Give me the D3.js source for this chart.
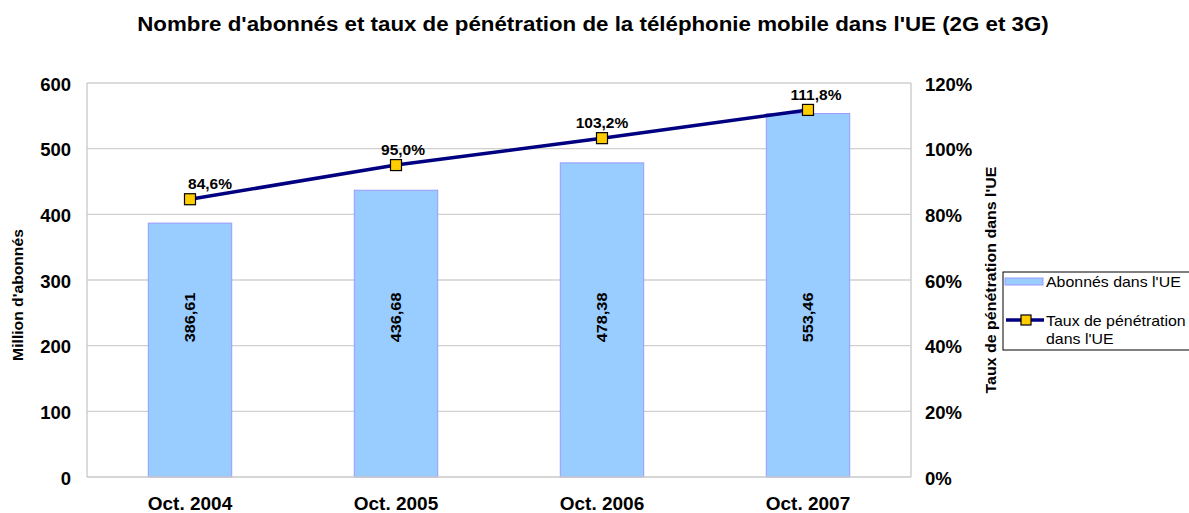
<!DOCTYPE html>
<html><head><meta charset="utf-8">
<script src="https://cdn.jsdelivr.net/npm/d3@7"></script>
<style>body{margin:0;background:#fff;font-family:"Liberation Sans",Arial,sans-serif;}</style>
</head><body>
<svg id="c" width="1189" height="513"></svg>
<script>
const categories = ["Oct. 2004","Oct. 2005","Oct. 2006","Oct. 2007"];
const subscribers = [386.61,436.68,478.38,553.46];
const penetration = [84.6,95.0,103.2,111.8];
const leftTicks = [0,100,200,300,400,500,600];
const rightTicks = [0,20,40,60,80,100,120];
const title = "Nombre d'abonnés et taux de pénétration de la téléphonie mobile dans l'UE (2G et 3G)";

const svg = d3.select("#c");
const m = {l:87, r:911, t:83, b:477};
const xc = d3.scaleBand().domain(categories).range([m.l,m.r]);
const yL = d3.scaleLinear().domain([0,600]).range([m.b,m.t]);
const yR = d3.scaleLinear().domain([0,120]).range([m.b,m.t]);
const fmt = v => v.toFixed(2).replace(".",",");
const fmtP = v => v.toFixed(1).replace(".",",")+"%";
const cx = i => xc(categories[i])+xc.bandwidth()/2;
function stretch(sel,k){ sel.each(function(){ const L=this.getComputedTextLength(); this.setAttribute("textLength",L*k); this.setAttribute("lengthAdjust","spacingAndGlyphs"); }); return sel; }

svg.append("text").attr("x",593).attr("y",31).attr("text-anchor","middle")
  .attr("font-size",20).attr("font-weight","bold").text(title).call(stretch,1.115);

// grid
svg.append("g").selectAll("line").data(leftTicks.filter(d=>d>0)).join("line")
  .attr("x1",m.l).attr("x2",m.r).attr("y1",d=>yL(d)).attr("y2",d=>yL(d))
  .attr("stroke","#d0d0d0").attr("stroke-width",1.3);
svg.append("line").attr("x1",m.l).attr("x2",m.l).attr("y1",m.t).attr("y2",m.b).attr("stroke","#c8c8c8").attr("stroke-width",1.3);
svg.append("line").attr("x1",m.r).attr("x2",m.r).attr("y1",m.t).attr("y2",m.b).attr("stroke","#c8c8c8").attr("stroke-width",1.3);

// bars
const bw = xc.bandwidth()*0.405;
svg.append("g").selectAll("rect").data(subscribers).join("rect")
  .attr("x",(d,i)=>cx(i)-bw/2)
  .attr("y",d=>yL(d)).attr("width",bw).attr("height",d=>yL(0)-yL(d))
  .attr("fill","#99CCFF").attr("stroke","#9999FF").attr("stroke-width",1);
svg.append("line").attr("x1",m.l).attr("x2",m.r).attr("y1",m.b).attr("y2",m.b).attr("stroke","#c8c8c8").attr("stroke-width",1.3);

// bar labels
svg.append("g").selectAll("text").data(subscribers).join("text")
  .attr("transform",(d,i)=>`translate(${cx(i)+5},${yL(243)}) rotate(-90)`)
  .attr("text-anchor","middle").attr("font-size",14.5).attr("font-weight","bold").text(d=>fmt(d)).call(stretch,1.12);

// line
svg.append("path").datum(penetration)
  .attr("d",d3.line().x((d,i)=>cx(i)).y(d=>yR(d)))
  .attr("fill","none").attr("stroke","#000080").attr("stroke-width",3.5);
svg.append("g").selectAll("rect").data(penetration).join("rect")
  .attr("x",(d,i)=>cx(i)-5.5).attr("y",d=>yR(d)-5.5).attr("width",11).attr("height",11)
  .attr("fill","#FFCC00").attr("stroke","#000").attr("stroke-width",1.2);
const labelDx = [20,7,0,8];
svg.append("g").selectAll("text").data(penetration).join("text")
  .attr("x",(d,i)=>cx(i)+labelDx[i]).attr("y",d=>yR(d)-10).attr("text-anchor","middle")
  .attr("font-size",15.5).attr("font-weight","bold").text(d=>fmtP(d));

// left axis labels
svg.append("g").selectAll("text").data(leftTicks).join("text")
  .attr("x",71).attr("y",d=>yL(d)+7.5).attr("text-anchor","end")
  .attr("font-size",18.5).attr("font-weight","bold").text(d=>d);
// right axis labels
svg.append("g").selectAll("text").data(rightTicks).join("text")
  .attr("x",925).attr("y",d=>yR(d)+7.5).attr("text-anchor","start")
  .attr("font-size",18.5).attr("font-weight","bold").text(d=>d+"%");
// category labels
svg.append("g").selectAll("text").data(categories).join("text")
  .attr("x",(d,i)=>cx(i)).attr("y",510).attr("text-anchor","middle")
  .attr("font-size",19).attr("font-weight","bold").text(d=>d);

// axis titles
svg.append("text").attr("transform",`translate(23,295) rotate(-90)`)
  .attr("text-anchor","middle").attr("font-size",14).attr("font-weight","bold").text("Million d'abonnés").call(stretch,1.12);
svg.append("text").attr("transform",`translate(996,280) rotate(-90)`)
  .attr("text-anchor","middle").attr("font-size",14).attr("font-weight","bold").text("Taux de pénétration dans l'UE").call(stretch,1.14);

// legend
const lg = svg.append("g");
lg.append("rect").attr("x",1003).attr("y",272).attr("width",200).attr("height",78)
  .attr("fill","#fff").attr("stroke","#000").attr("stroke-width",1);
lg.append("rect").attr("x",1005).attr("y",278).attr("width",38).attr("height",7)
  .attr("fill","#99CCFF").attr("stroke","#9999FF");
lg.append("text").attr("x",1046).attr("y",287).attr("font-size",15).text("Abonnés dans l'UE").call(stretch,1.06);
lg.append("line").attr("x1",1006).attr("x2",1044).attr("y1",320).attr("y2",320).attr("stroke","#000080").attr("stroke-width",3.5);
lg.append("rect").attr("x",1021).attr("y",315).attr("width",10).attr("height",10).attr("fill","#FFCC00").attr("stroke","#000").attr("stroke-width",1.2);
lg.append("text").attr("x",1046).attr("y",326).attr("font-size",15).text("Taux de pénétration").call(stretch,1.06);
lg.append("text").attr("x",1046).attr("y",344).attr("font-size",15).text("dans l'UE").call(stretch,1.06);
</script>
</body></html>
